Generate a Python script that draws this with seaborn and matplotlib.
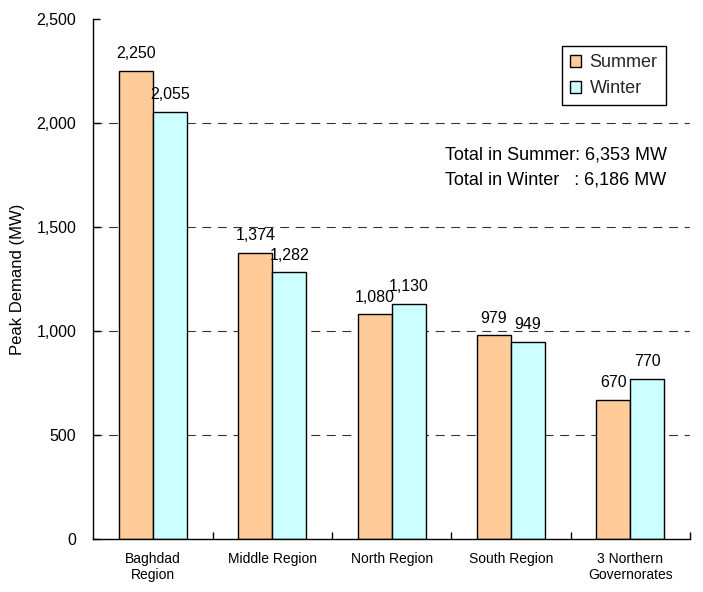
import matplotlib
matplotlib.use("Agg")
import matplotlib.pyplot as plt
import matplotlib.ticker as mticker
import numpy as np
import pandas as pd
import seaborn as sns

# Peak demand by region (MW)
regions = ["Baghdad\nRegion", "Middle Region", "North Region", "South Region",
           "3 Northern\nGovernorates"]
summer = [2250, 1374, 1080, 979, 670]
winter = [2055, 1282, 1130, 949, 770]
seasons = ["Summer", "Winter"]
season_colors = {"Summer": "#FFCC99", "Winter": "#CCFFFF"}
y_ticks = [0, 500, 1000, 1500, 2000, 2500]
total_lines = ["Total in Summer: 6,353 MW", "Total in Winter   : 6,186 MW"]

df = pd.DataFrame({
    "Region": regions * 2,
    "Peak Demand (MW)": summer + winter,
    "Season": [seasons[0]] * len(regions) + [seasons[1]] * len(regions),
})

sns.set_theme(style="white")
plt.rcParams["font.family"] = ["Liberation Sans", "DejaVu Sans"]

fig, ax = plt.subplots(figsize=(7.03, 5.92), dpi=100)
fig.subplots_adjust(left=0.1323, right=0.9815, bottom=0.0895, top=0.9679)

# dashed gridlines sit beneath the bars
ax.set_axisbelow(True)
for yv in y_ticks[1:-1]:
    ax.axhline(yv, color="#333333", linewidth=0.8, linestyle=(0, (8, 6)), zorder=0)

sns.barplot(data=df, x="Region", y="Peak Demand (MW)", hue="Season",
            palette=season_colors, saturation=1, edgecolor="black",
            linewidth=1.0, width=0.57, gap=0, ax=ax, zorder=2)

for cont in ax.containers:
    ax.bar_label(cont, labels=[f"{v:,.0f}" for v in cont.datavalues],
                 padding=7, fontsize=11.5, color="black")

ax.set_ylim(0, 2500)
ax.set_xlim(-0.504, 4.326)
ax.set_yticks(y_ticks)
ax.yaxis.set_major_formatter(mticker.FuncFormatter(lambda v, p: f"{v:,.0f}"))
ax.tick_params(axis="y", direction="in", length=5, width=1, pad=12,
               labelsize=11.5, colors="black", left=True)
ax.tick_params(axis="x", which="major", length=0, pad=9, labelsize=10,
               colors="black")
ax.set_xticks(np.arange(len(regions)) + 0.5, minor=True)
ax.tick_params(axis="x", which="minor", direction="in", length=5, width=1,
               bottom=True, color="black")

ax.set_xlabel("")
ax.set_ylabel("Peak Demand (MW)", fontsize=12, color="black", labelpad=8)

for side in ["top", "right"]:
    ax.spines[side].set_visible(False)
for side in ["left", "bottom"]:
    ax.spines[side].set_color("black")
    ax.spines[side].set_linewidth(1.0)

leg = ax.legend(loc="upper left", bbox_to_anchor=(0.7856, 0.948), fontsize=13,
                frameon=True, fancybox=False, edgecolor="black", framealpha=1,
                handlelength=0.62, handleheight=0.62, handletextpad=0.45,
                borderpad=0.45, labelspacing=0.5, borderaxespad=0, title=None)
leg.get_frame().set_linewidth(1.0)

ax.text(0.5896, 0.738, total_lines[0], transform=ax.transAxes, fontsize=13,
        va="center", ha="left", color="black")
ax.text(0.5896, 0.690, total_lines[1], transform=ax.transAxes, fontsize=13,
        va="center", ha="left", color="black")

fig.savefig("out.png", dpi=100, facecolor="white")
